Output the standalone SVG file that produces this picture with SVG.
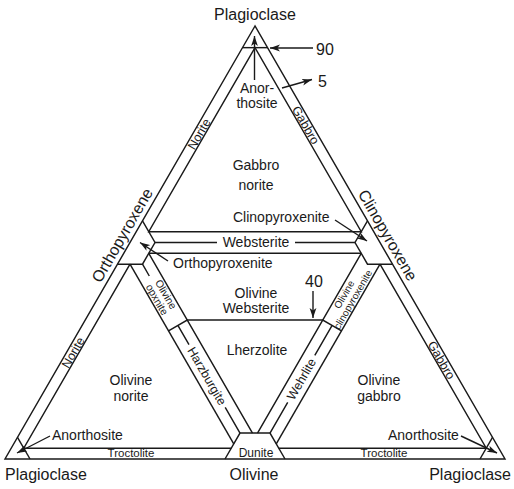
<svg xmlns="http://www.w3.org/2000/svg" width="514" height="489" viewBox="0 0 514 489">
<style>
.ln{fill:none;stroke:#1a1a1a;stroke-width:1.45;stroke-linejoin:miter}
.ar{fill:none;stroke:#1a1a1a;stroke-width:1.4;marker-end:url(#ah)}
.t{font-family:"Liberation Sans",Arial,Helvetica,sans-serif;fill:#1a1a1a}
.big{font-size:16px}
.mid{font-size:14px}
.sm{font-size:12.5px}
.xs{font-size:10.5px}
.c{text-anchor:middle}
.e{text-anchor:end}
</style>
<defs>
<marker id="ah" markerUnits="userSpaceOnUse" markerWidth="12" markerHeight="8" refX="10" refY="4" orient="auto">
<path d="M0,0.6 L10,4 L0,7.4 L2.6,4 Z" fill="#1a1a1a"/>
</marker>
</defs>
<rect width="514" height="489" fill="#ffffff"/>

<g id="connectors">
<!-- outer triangle -->
<path class="ln" d="M255,26 L5,459 L505,459 Z"/>
<!-- upper triangle -->
<path class="ln" d="M242.5,47.65 L267.5,47.65"/>
<path class="ln" d="M255,47.65 L148.75,231.68 L361.25,231.68 Z"/>
<path class="ln" d="M155,242.5 L217,242.5 M295,242.5 L355,242.5"/>
<!-- orthopyroxenite / clinopyroxenite corners -->
<path class="ln" d="M142.5,220.85 L155,242.5 L142.5,264.15 L117.5,264.15"/>
<path class="ln" d="M367.5,220.85 L355,242.5 L367.5,264.15 L392.5,264.15"/>
<!-- middle (ultramafic) triangle -->
<path class="ln" d="M148.75,253.33 L361.25,253.33"/>
<path class="ln" d="M148.75,253.33 L252.5,433.02 M361.25,253.33 L257.5,433.02"/>
<path class="ln" d="M168.5,330.83 L187.25,320 L322.75,320 L341.5,330.83"/>
<path class="ln" d="M142.5,264.15 L149.3,276 M177.88,325.41 L189,344.7 M225.2,407.3 L240,433.02"/>
<path class="ln" d="M332.12,325.41 L314.8,355.4 M287.7,402.4 L270,433.02"/>
<!-- dunite corner -->
<path class="ln" d="M225,459 L240,433.02 L270,433.02 L285,459"/>
<!-- lower-left triangle -->
<path class="ln" d="M17.5,437.35 L30,459"/>
<path class="ln" d="M130,264.15 L23.75,448.18 L231.25,448.18"/>
<path class="ln" d="M130,264.15 L233.75,443.85"/>
<!-- lower-right triangle -->
<path class="ln" d="M492.5,437.35 L480,459"/>
<path class="ln" d="M380,264.15 L486.25,448.18 L278.75,448.18"/>
<path class="ln" d="M380,264.15 L276.25,443.85"/>
<!-- arrows -->
<path class="ar" d="M313,48 L270,48"/>
<path class="ar" d="M282,88 L312,79.5"/>
<path class="ar" d="M254.5,80 L254.5,36"/>
<path class="ar" d="M335,220 L367,241"/>
<path class="ar" d="M168,261 L140,242.5"/>
<path class="ar" d="M313,291 L313,318"/>
<path class="ar" d="M50,436 L17,453"/>
<path class="ar" d="M461,436 L497,453"/>
</g>

<g id="apex-plagioclase"><text class="t big c" x="255" y="20">Plagioclase</text></g>
<g id="label-90"><text class="t big" x="316" y="55">90</text></g>
<g id="label-5"><text class="t big" x="318" y="87">5</text></g>
<g id="anorthosite-top"><text class="t mid c"><tspan x="257" y="93">Anor-</tspan><tspan x="257" y="108">thosite</tspan></text></g>
<g id="norite-upper"><text class="t sm c" transform="translate(198.9,134) rotate(-60)" x="0" y="4.5">Norite</text></g>
<g id="gabbro-upper"><text class="t sm c" transform="translate(305.9,125) rotate(60)" x="0" y="4.5">Gabbro</text></g>
<g id="gabbronorite"><text class="t mid c"><tspan x="256" y="170">Gabbro</tspan><tspan x="256" y="190">norite</tspan></text></g>
<g id="orthopyroxene"><text class="t big c" transform="translate(127,238) rotate(-60)" x="0" y="0">Orthopyroxene</text></g>
<g id="clinopyroxene"><text class="t big c" transform="translate(383,238) rotate(60)" x="0" y="0">Clinopyroxene</text></g>
<g id="clinopyroxenite"><text class="t mid" x="233" y="222">Clinopyroxenite</text></g>
<g id="websterite"><text class="t mid c" x="256" y="247">Websterite</text></g>
<g id="orthopyroxenite"><text class="t mid" x="173" y="268">Orthopyroxenite</text></g>
<g id="olivine-websterite"><text class="t mid c"><tspan x="256" y="298">Olivine</tspan><tspan x="256" y="313">Websterite</tspan></text></g>
<g id="label-40"><text class="t big" x="305" y="287">40</text></g>
<g id="lherzolite"><text class="t mid c" x="257" y="355">Lherzolite</text></g>
<g id="olivine-opxnite"><text class="t xs c" transform="translate(161.5,297) rotate(60)"><tspan x="0" y="-1.5">Olivine</tspan><tspan x="0" y="8.8">opxnite</tspan></text></g>
<g id="olivine-clinopyroxenite"><text class="t c" style="font-size:10px" transform="translate(348.5,297) rotate(-60)"><tspan x="0" y="-1.5">Olivine</tspan><tspan x="0" y="8.5">clinopyroxenite</tspan></text></g>
<g id="harzburgite"><text class="t sm c" transform="translate(207.1,376) rotate(60)" x="0" y="4.5">Harzburgite</text></g>
<g id="wehrlite"><text class="t sm c" transform="translate(301.2,379) rotate(-60)" x="0" y="4.5">Wehrlite</text></g>
<g id="olivine-norite"><text class="t mid c"><tspan x="131" y="385">Olivine</tspan><tspan x="131" y="401">norite</tspan></text></g>
<g id="olivine-gabbro"><text class="t mid c"><tspan x="379" y="385">Olivine</tspan><tspan x="379" y="401">gabbro</tspan></text></g>
<g id="norite-lower"><text class="t sm c" transform="translate(72.9,352.5) rotate(-60)" x="0" y="4.5">Norite</text></g>
<g id="gabbro-lower"><text class="t sm c" transform="translate(441.6,360) rotate(60)" x="0" y="4.5">Gabbro</text></g>
<g id="anorthosite-left"><text class="t mid" x="52" y="440">Anorthosite</text></g>
<g id="anorthosite-right"><text class="t mid" x="388" y="440">Anorthosite</text></g>
<g id="troctolite-left"><text class="t c" style="font-size:11.5px" x="131" y="457">Troctolite</text></g>
<g id="troctolite-right"><text class="t c" style="font-size:11.5px" x="384" y="457">Troctolite</text></g>
<g id="dunite"><text class="t c" style="font-size:12px" x="256" y="456.5">Dunite</text></g>
<g id="plagioclase-left"><text class="t big" x="5" y="480">Plagioclase</text></g>
<g id="olivine-bottom"><text class="t big c" x="254" y="480">Olivine</text></g>
<g id="plagioclase-right"><text class="t big e" x="511" y="480">Plagioclase</text></g>
</svg>
